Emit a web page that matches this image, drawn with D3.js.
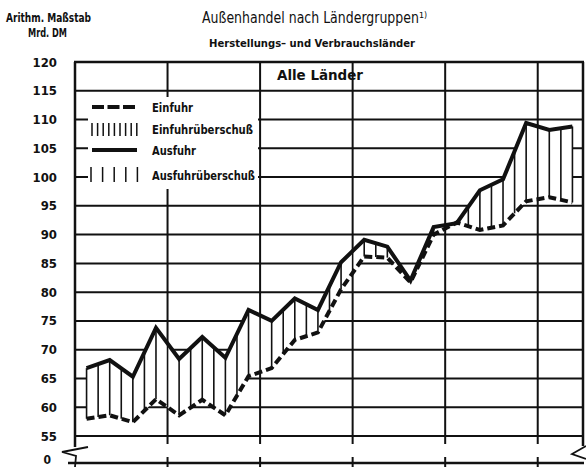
<!DOCTYPE html>
<html><head><meta charset="utf-8">
<script src="https://cdn.jsdelivr.net/npm/d3@7"></script>
<style>
body{margin:0;background:#fff}
svg{display:block}
text{font-family:"DejaVu Sans Condensed","Liberation Sans Narrow",sans-serif;fill:#111}
</style></head><body>
<svg id="chart" width="586" height="467"></svg>
<script>
// quarterly values, Mrd. DM
const quarters = ["I","II","III","IV","I","II","III","IV","I","II","III","IV",
                  "I","II","III","IV","I","II","III","IV","I","II"];
const ausfuhr = [66.8, 68.2, 65.3, 73.8, 68.4, 72.2, 68.6, 76.9, 75.0, 78.9, 76.9,
                 85.2, 89.1, 87.9, 82.0, 91.3, 92.0, 97.7, 99.6, 109.4, 108.2, 108.8];
const einfuhr = [58.0, 58.6, 57.4, 61.4, 58.6, 61.3, 58.6, 65.4, 66.8, 71.7, 73.0,
                 80.5, 86.2, 86.0, 81.7, 90.0, 92.1, 90.8, 91.6, 95.8, 96.5, 95.6];
const yTicks = [120,115,110,105,100,95,90,85,80,75,70,65,60,55];
const legendItems = ["Einfuhr","Einfuhrüberschuß","Ausfuhr","Ausfuhrüberschuß"];

const svg = d3.select("#chart");
const x = d3.scaleLinear().domain([0, quarters.length]).range([75, 584]);
const y = d3.scaleLinear().domain([55, 120]).range([436, 62]);
const yZero = 463;
const ink = "#111";

// horizontal grid
svg.append("g").selectAll("line").data(yTicks).join("line")
  .attr("x1", 75).attr("x2", 584)
  .attr("y1", d => y(d)).attr("y2", d => y(d))
  .attr("stroke", ink).attr("stroke-width", 2);

// year lines every 4 quarters
const yearLines = d3.range(4, quarters.length, 4);
const vg = svg.append("g").attr("stroke", ink).attr("stroke-width", 2);
yearLines.forEach(q => {
  vg.append("line").attr("x1", x(q)).attr("x2", x(q)).attr("y1", y(120)).attr("y2", 444);
  vg.append("line").attr("x1", x(q)).attr("x2", x(q)).attr("y1", 457).attr("y2", 467);
});

// frame
const fr = svg.append("g").attr("stroke", ink).attr("fill", "none").attr("stroke-width", 2.5);
fr.append("line").attr("x1", 74).attr("x2", 584).attr("y1", y(120)).attr("y2", y(120));
fr.append("line").attr("x1", 75).attr("x2", 75).attr("y1", y(120)).attr("y2", 447);
fr.append("line").attr("x1", 583).attr("x2", 583).attr("y1", y(120)).attr("y2", 446);
fr.append("path").attr("d", "M88,447 L62,452 L76,456 L75,467").attr("stroke-width", 1.8);
fr.append("path").attr("d", "M586,446 L572,454 L586,459").attr("stroke-width", 1.8);
fr.append("line").attr("x1", 68).attr("x2", 584).attr("y1", yZero).attr("y2", yZero);

// white band between the two series
const px = i => x(i + 0.5);
const band = d3.area()
  .x((d, i) => px(i))
  .y0((d, i) => y(einfuhr[i]))
  .y1(d => y(d));
svg.append("path").datum(ausfuhr).attr("d", band).attr("fill", "#fff");

// hatching
function valAt(arr, p) {
  const i = Math.min(Math.floor(p), arr.length - 2);
  const f = p - i;
  return arr[i] + (arr[i + 1] - arr[i]) * f;
}
const hatch = [];
for (let p = 0; p <= quarters.length - 1 + 1e-6; p += 0.5) {
  const a = valAt(ausfuhr, p), e = valAt(einfuhr, p);
  if (a - e > 0.4) hatch.push({p, a, e});
}
for (let p = 0; p <= quarters.length - 1 + 1e-6; p += 0.125) {
  const a = valAt(ausfuhr, p), e = valAt(einfuhr, p);
  if (e - a > 0.05) hatch.push({p, a, e});
}
svg.append("g").selectAll("line").data(hatch).join("line")
  .attr("x1", d => px(d.p)).attr("x2", d => px(d.p))
  .attr("y1", d => y(d.a)).attr("y2", d => y(d.e))
  .attr("stroke", ink).attr("stroke-width", 1.6);

// series lines
const line = d3.line().x((d, i) => px(i)).y(d => y(d));
svg.append("path").datum(einfuhr).attr("d", line)
  .attr("fill", "none").attr("stroke", ink).attr("stroke-width", 4)
  .attr("stroke-dasharray", "8,4");
svg.append("path").datum(ausfuhr).attr("d", line)
  .attr("fill", "none").attr("stroke", ink).attr("stroke-width", 4)
  .attr("stroke-linejoin", "miter");

// y labels
svg.append("g").selectAll("text").data(yTicks).join("text")
  .attr("x", 57).attr("y", d => y(d)).attr("text-anchor", "end")
  .attr("dominant-baseline", "central")
  .attr("font-size", 13).attr("font-weight", "bold").text(d => d);
svg.append("text").attr("x", 51).attr("y", 460).attr("text-anchor", "end")
  .attr("dominant-baseline", "central").attr("font-size", 12).attr("font-weight", "bold").text("0");

// legend
const lg = svg.append("g");
lg.append("rect").attr("x", 88).attr("y", 97).attr("width", 170).attr("height", 92).attr("fill", "#fff");
const ly = [107, 129, 150, 175];
const lw = [41, 101, 44, 103];
lg.append("line").attr("x1", 92).attr("x2", 137).attr("y1", ly[0]).attr("y2", ly[0])
  .attr("stroke", ink).attr("stroke-width", 4).attr("stroke-dasharray", "12,3.5");
lg.append("line").attr("x1", 92).attr("x2", 137).attr("y1", ly[2]).attr("y2", ly[2])
  .attr("stroke", ink).attr("stroke-width", 4);
lg.selectAll("line.dense").data(d3.range(9)).join("line").attr("class", "dense")
  .attr("x1", d => 92 + d * 5.6).attr("x2", d => 92 + d * 5.6)
  .attr("y1", 123).attr("y2", 136).attr("stroke", ink).attr("stroke-width", 1.5);
lg.selectAll("line.sparse").data(d3.range(5)).join("line").attr("class", "sparse")
  .attr("x1", d => 91 + d * 11.6).attr("x2", d => 91 + d * 11.6)
  .attr("y1", 167).attr("y2", 182).attr("stroke", ink).attr("stroke-width", 1.5);
lg.selectAll("text").data(legendItems).join("text")
  .attr("x", 152).attr("y", (d, i) => ly[i]).attr("dominant-baseline", "central")
  .attr("font-size", 13).attr("font-weight", "bold")
  .attr("textLength", (d, i) => lw[i]).attr("lengthAdjust", "spacingAndGlyphs")
  .text(d => d);

// titles
svg.append("text").attr("x", 6).attr("y", 18).attr("dominant-baseline", "central")
  .attr("font-size", 11.5).attr("font-weight", "bold")
  .attr("textLength", 85).attr("lengthAdjust", "spacingAndGlyphs").text("Arithm. Maßstab");
svg.append("text").attr("x", 28).attr("y", 33).attr("dominant-baseline", "central")
  .attr("font-size", 11.5).attr("font-weight", "bold")
  .attr("textLength", 39).attr("lengthAdjust", "spacingAndGlyphs").text("Mrd. DM");
svg.append("text").attr("x", 202).attr("y", 18).attr("dominant-baseline", "central")
  .attr("font-size", 15).attr("textLength", 225).attr("lengthAdjust", "spacingAndGlyphs")
  .text("Außenhandel nach Ländergruppen¹⁾");
svg.append("text").attr("x", 209).attr("y", 43).attr("dominant-baseline", "central")
  .attr("font-size", 10.5).attr("font-weight", "bold")
  .attr("textLength", 206).attr("lengthAdjust", "spacingAndGlyphs")
  .text("Herstellungs– und Verbrauchsländer");
svg.append("text").attr("x", 277).attr("y", 75).attr("dominant-baseline", "central")
  .attr("font-size", 14).attr("font-weight", "bold")
  .attr("textLength", 86).attr("lengthAdjust", "spacingAndGlyphs").text("Alle Länder");
</script>
</body></html>
